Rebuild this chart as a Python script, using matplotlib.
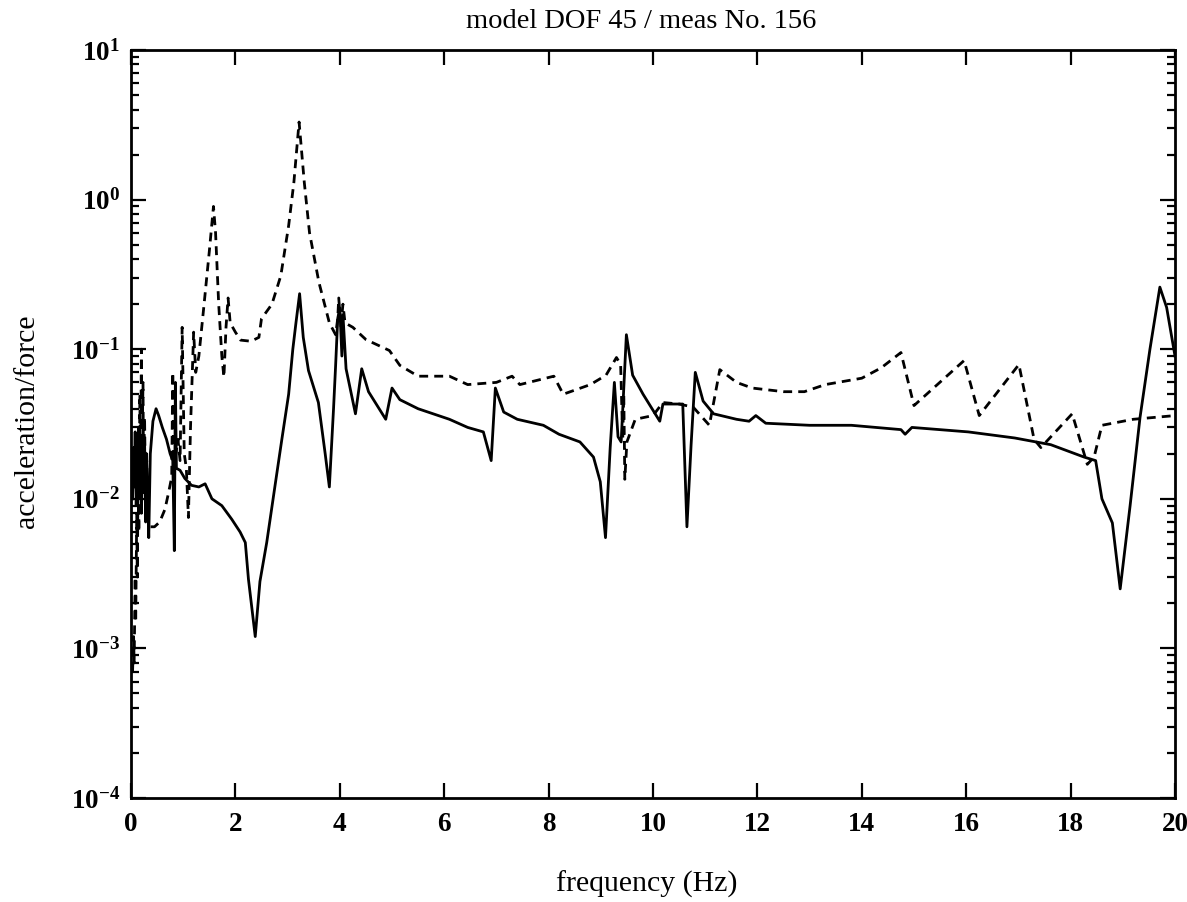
import matplotlib
matplotlib.use("Agg")
import matplotlib.pyplot as plt
from matplotlib.ticker import LogLocator, FixedLocator

# ==========================================
# DATA
# ==========================================
TITLE = "model DOF 45 / meas No. 156"
X_LABEL = "frequency (Hz)"
Y_LABEL = "acceleration/force"

# model (dashed)
model_freq = [
    0.03, 0.05, 0.06, 0.08, 0.09, 0.11, 0.12, 0.14, 0.15, 0.17, 0.18, 0.20,
    0.21, 0.23, 0.24, 0.26, 0.28, 0.30, 0.32, 0.36, 0.45, 0.55, 0.65, 0.72,
    0.78, 0.80, 0.82, 0.86, 0.90, 0.94, 0.98, 1.02, 1.06, 1.10, 1.14, 1.20,
    1.24, 1.30, 1.40, 1.50, 1.58, 1.62, 1.68, 1.74, 1.78, 1.82, 1.86, 1.90,
    2.00, 2.10, 2.30, 2.45, 2.50, 2.70, 2.87, 3.02, 3.12, 3.22, 3.32, 3.42,
    3.60, 3.80, 3.92, 3.96, 3.98, 4.02, 4.06, 4.10, 4.25, 4.50, 4.95, 5.15,
    5.50, 6.10, 6.45, 7.00, 7.30, 7.45, 8.10, 8.28, 8.80, 9.10, 9.30, 9.38,
    9.42, 9.44, 9.46, 9.50, 9.66, 10.0, 10.19, 10.5, 10.77, 11.08, 11.28,
    11.6, 11.9, 12.5, 12.9, 13.3, 14.0, 14.37, 14.75, 15.0, 15.96, 16.25,
    17.01, 17.3, 17.43, 18.03, 18.32, 18.45, 18.6, 19.2, 20.0,
]
model_resp = [
    0.0007, 0.0012, 0.0008, 0.003, 0.0015, 0.008, 0.003, 0.02, 0.006, 0.05,
    0.012, 0.1, 0.02, 0.06, 0.015, 0.035, 0.009, 0.02, 0.007, 0.0065, 0.0065,
    0.007, 0.0085, 0.011, 0.014, 0.07, 0.018, 0.02, 0.025, 0.018, 0.14, 0.02,
    0.016, 0.0075, 0.03, 0.13, 0.07, 0.09, 0.2, 0.45, 0.9, 0.6, 0.2, 0.09,
    0.065, 0.14, 0.22, 0.15, 0.13, 0.115, 0.113, 0.12, 0.16, 0.2, 0.31, 0.67,
    1.3, 3.3, 1.3, 0.6, 0.28, 0.15, 0.125, 0.16, 0.22, 0.14, 0.2, 0.15, 0.14,
    0.116, 0.098, 0.078, 0.066, 0.066, 0.058, 0.06, 0.066, 0.058, 0.066, 0.05,
    0.058, 0.067, 0.088, 0.079, 0.025, 0.05, 0.0135, 0.024, 0.034, 0.036,
    0.044, 0.043, 0.041, 0.031, 0.073, 0.06, 0.055, 0.052, 0.052, 0.058,
    0.064, 0.075, 0.095, 0.042, 0.084, 0.036, 0.079, 0.025, 0.022, 0.037,
    0.017, 0.019, 0.031, 0.034, 0.036,
]

# measurement (solid)
meas_freq = [
    0.03, 0.05, 0.06, 0.08, 0.10, 0.12, 0.13, 0.15, 0.17, 0.19, 0.20, 0.22,
    0.24, 0.26, 0.28, 0.30, 0.32, 0.34, 0.37, 0.42, 0.48, 0.53, 0.60, 0.68,
    0.75, 0.80, 0.83, 0.85, 0.87, 0.94, 1.03, 1.16, 1.30, 1.42, 1.55, 1.74,
    1.93, 2.09, 2.19, 2.25, 2.38, 2.47, 2.60, 2.76, 2.89, 3.02, 3.10, 3.16,
    3.23, 3.30, 3.40, 3.59, 3.72, 3.80, 3.88, 3.92, 3.96, 4.00, 4.04, 4.06,
    4.12, 4.30, 4.42, 4.55, 4.88, 5.00, 5.15, 5.50, 6.10, 6.45, 6.75, 6.90,
    6.98, 7.14, 7.40, 7.90, 8.20, 8.60, 8.86, 8.99, 9.09, 9.18, 9.26, 9.33,
    9.39, 9.49, 9.61, 9.81, 10.13, 10.19, 10.57, 10.65, 10.73, 10.81, 10.96,
    11.16, 11.6, 11.84, 11.97, 12.16, 13.0, 13.8, 14.75, 14.83, 14.96, 16.04,
    16.93, 17.62, 18.26, 18.48, 18.6, 18.8, 18.95, 19.14, 19.33, 19.52,
    19.71, 19.84, 20.0,
]
meas_resp = [
    0.01, 0.022, 0.012, 0.028, 0.009, 0.024, 0.012, 0.03, 0.01, 0.025, 0.008,
    0.02, 0.011, 0.025, 0.007, 0.018, 0.01, 0.0055, 0.02, 0.033, 0.04, 0.036,
    0.03, 0.025, 0.02, 0.018, 0.0045, 0.06, 0.016, 0.0155, 0.0137, 0.0123,
    0.012, 0.0126, 0.010, 0.009, 0.0073, 0.006, 0.0051, 0.0029, 0.0012,
    0.0028, 0.0051, 0.0123, 0.025, 0.05, 0.1, 0.15, 0.235, 0.12, 0.072, 0.044,
    0.02, 0.012, 0.04, 0.078, 0.16, 0.19, 0.09, 0.17, 0.074, 0.037, 0.074,
    0.052, 0.034, 0.055, 0.046, 0.04, 0.034, 0.03, 0.028, 0.018, 0.055, 0.038,
    0.034, 0.031, 0.027, 0.024, 0.019, 0.013, 0.0055, 0.022, 0.06, 0.026,
    0.024, 0.125, 0.067, 0.05, 0.033, 0.043, 0.043, 0.0065, 0.023, 0.07,
    0.045, 0.037, 0.034, 0.033, 0.036, 0.032, 0.031, 0.031, 0.029, 0.027,
    0.03, 0.028, 0.0255, 0.023, 0.019, 0.018, 0.01, 0.0069, 0.0025, 0.009,
    0.035, 0.1, 0.26, 0.19, 0.09,
]

x_ticks = [0, 2, 4, 6, 8, 10, 12, 14, 16, 18, 20]

# ==========================================
# STYLE
# ==========================================
plt.rcParams["font.family"] = ["Liberation Serif", "DejaVu Serif"]
plt.rcParams["mathtext.fontset"] = "custom"
plt.rcParams["mathtext.rm"] = "Liberation Serif"
plt.rcParams["axes.unicode_minus"] = False

W, H = 1187, 902
fig = plt.figure(figsize=(W / 100, H / 100), dpi=100)
ax = fig.add_axes([131 / W, 1 - 798 / H, (1175 - 131) / W, (798 - 50) / H])

ax.plot(meas_freq, meas_resp, color="black", linewidth=2.0,
        solid_joinstyle="round")
ax.plot(model_freq, model_resp, color="black", linewidth=2.0,
        linestyle=(0, (3.2, 2.2)))

ax.set_yscale("log")
ax.set_xlim(0, 20)
ax.set_ylim(1e-4, 1e1)

ax.xaxis.set_major_locator(FixedLocator(x_ticks))
ax.yaxis.set_major_locator(LogLocator(base=10, numticks=10))
ax.yaxis.set_minor_locator(LogLocator(base=10, subs=range(2, 10), numticks=50))

ax.tick_params(axis="both", which="both", direction="in",
               top=True, right=True, width=1.6)
ax.tick_params(axis="both", which="major", length=11, pad=10,
               labelsize=19.5)
ax.tick_params(axis="y", which="major", pad=8)
ax.tick_params(axis="y", which="minor", length=6)
for lbl in ax.get_xticklabels() + ax.get_yticklabels():
    lbl.set_fontweight("bold")

for side in ax.spines.values():
    side.set_linewidth(2.0)

# ==========================================
# LABELS
# ==========================================
fig.text(641 / W, 1 - 21 / H, TITLE, fontsize=20.5,
         ha="center", va="center")
fig.text(647 / W, 1 - 884 / H, X_LABEL, fontsize=21.5,
         ha="center", va="center")
fig.text(27 / W, 1 - 421 / H, Y_LABEL, fontsize=21.5, rotation=90,
         ha="center", va="center")

fig.savefig("out.png", dpi=100)
